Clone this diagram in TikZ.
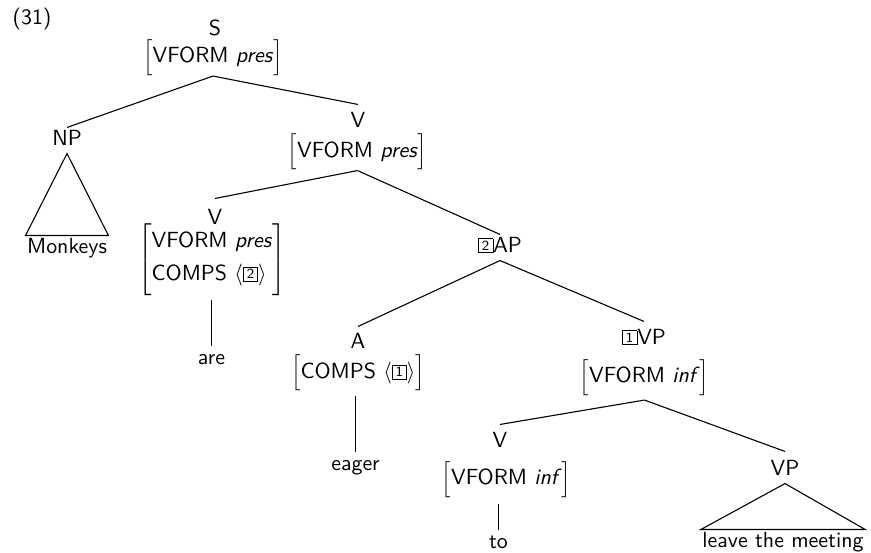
\documentclass[tikz,border=0pt]{standalone}
\usepackage{tikz}

% boxed tag number used for structure sharing
\newcommand{\tagnum}[1]{{\setlength{\fboxsep}{0pt}\setlength{\fboxrule}{0.4pt}%
  \fbox{\makebox[6.8pt]{\rule[-0.2pt]{0pt}{6.6pt}\fontsize{7}{7}\selectfont\raisebox{0.8pt}{#1}}}}}
% feature structure in square brackets; #1 fixes the bracket size
\newcommand{\fsbox}[2]{\ensuremath{\left[\vcenter{\hbox{\rule{0pt}{#1}}}#2\right]}}

\begin{document}
\begin{tikzpicture}[x=0.5pt,y=-0.5pt,
  font=\fontsize{10.95}{13.6}\selectfont\sffamily,
  line width=0.55pt,
  cat/.style={anchor=base, inner xsep=1pt, inner ysep=1pt, text height=7.5pt, text depth=3pt},
  leaf/.style={anchor=base, inner xsep=0.5pt, inner ysep=1pt, text height=7.5pt, text depth=2.2pt},
  avm/.style={inner sep=0pt}]
\useasboundingbox (0,0) rectangle (871,552);

% example number
\node[anchor=base west, inner sep=0pt] (exnum) at (12,24) {(31)};

% categories
\node[cat] (lS)   at (215,35)  {S};
\node[cat] (lNP)  at (67,145)  {NP};
\node[cat] (lV2)  at (358,127) {V};
\node[cat] (lV3)  at (215,224) {V};
\node[cat] (lAP)  at (500,252) {\tagnum{2}AP};
\node[cat] (lA)   at (358,348) {A};
\node[cat] (lVP1) at (644,344) {\tagnum{1}VP};
\node[cat] (lV4)  at (500,447) {V};
\node[cat] (lVP2) at (785,475) {VP};

% feature structures
\node[avm] (fS)   at (213,57.5)  {\fsbox{17pt}{\mbox{VFORM \textit{pres}}}};
\node[avm] (fV2)  at (357.5,152) {\fsbox{17pt}{\mbox{VFORM \textit{pres}}}};
\node[avm] (fV3)  at (212,259.5) {\fsbox{30pt}{\raisebox{1pt}{\def\arraystretch{1.21}%
    \begin{tabular}{@{}l@{}}VFORM \textit{pres}\\COMPS $\langle$\tagnum{2}$\rangle$\end{tabular}}}};
\node[avm] (fA)   at (358,373)   {\fsbox{17pt}{\mbox{COMPS $\langle$\tagnum{1}$\rangle$}}};
\node[avm] (fVP1) at (644.5,377.5) {\fsbox{17pt}{\mbox{VFORM \textit{inf}}}};
\node[avm] (fV4)  at (506.5,479.5) {\fsbox{17pt}{\mbox{VFORM \textit{inf}}}};

% words
\node[leaf] (wMonkeys) at (67,253)    {Monkeys};
\node[leaf] (wAre)     at (211.5,364) {are};
\node[leaf] (wEager)   at (355.5,470) {eager};
\node[leaf] (wTo)      at (498.5,548) {to};
\node[leaf] (wLeave)   at (783,547)   {leave the meeting};

% branches
\draw (fS.south) -- (lNP.north);
\draw (fS.south) -- ([yshift=2.5pt]lV2.north);
\draw (fV2.south) -- ([yshift=4pt]lV3.north);
\draw (fV2.south) -- (lAP.north);
\draw (lAP.south) -- ([yshift=2pt]lA.north);
\draw (lAP.south) -- ([yshift=2.5pt]lVP1.north);
\draw ([yshift=-2pt]fVP1.south) -- ([yshift=2.5pt]lV4.north);
\draw ([yshift=-2pt]fVP1.south) -- ([yshift=3pt]lVP2.north);

% unary branches down to words
\draw ([yshift=-2pt]wAre.north |- fV3.south) -- (wAre.north);
\draw ([yshift=-2pt]wEager.north |- fA.south) -- (wEager.north);
\draw ([yshift=-3pt]wTo.north |- fV4.south) -- (wTo.north);

% roof triangles
\draw (lNP.south) -- (wMonkeys.north west) -- (wMonkeys.north east) -- cycle;
\draw (lVP2.south) -- (wLeave.north west) -- (wLeave.north east) -- cycle;
\end{tikzpicture}
\end{document}
